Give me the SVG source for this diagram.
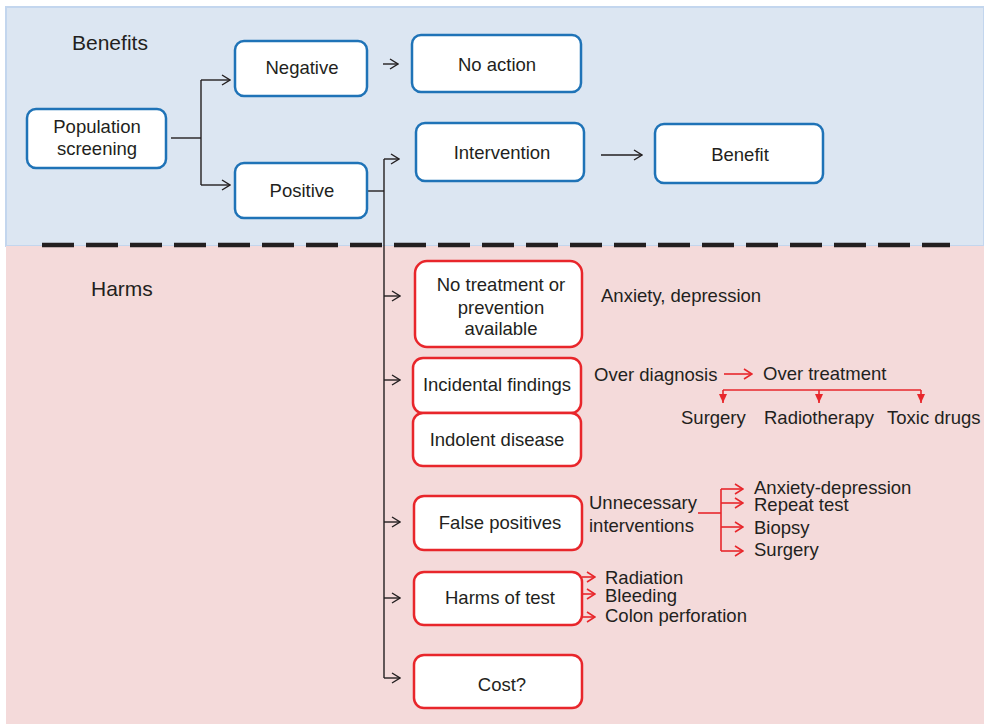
<svg xmlns="http://www.w3.org/2000/svg" width="984" height="724" viewBox="0 0 984 724">
<defs>
<style>
text{font-family:"Liberation Sans",Arial,sans-serif;font-size:18.5px;fill:#231f20}
.c{text-anchor:middle}
.title{font-size:21px}
.bb{fill:#fff;stroke:#1f73b7;stroke-width:2.5}
.rb{fill:#fff;stroke:#e8262b;stroke-width:2.5}
.k{fill:none;stroke:#231f20;stroke-width:1.4}
.r{fill:none;stroke:#e8262b;stroke-width:1.6}
</style>
<marker id="ak" markerWidth="12" markerHeight="12" viewBox="0 0 12 12" refX="11" refY="6" orient="auto" markerUnits="userSpaceOnUse">
<path d="M3,1 L11,6 L3,11" fill="none" stroke="#231f20" stroke-width="1.4"/>
</marker>
<marker id="ar" markerWidth="12" markerHeight="12" viewBox="0 0 12 12" refX="11" refY="6" orient="auto" markerUnits="userSpaceOnUse">
<path d="M3,1 L11,6 L3,11" fill="none" stroke="#e8262b" stroke-width="1.6"/>
</marker>
<marker id="tr" markerWidth="10" markerHeight="10" viewBox="0 0 10 10" refX="9" refY="5" orient="auto" markerUnits="userSpaceOnUse">
<path d="M0,1 L9,5 L0,9 Z" fill="#e8262b"/>
</marker>
</defs>
<g id="background">
<rect x="6" y="7" width="978" height="239" fill="#dce6f2" stroke="#c3d6ee" stroke-width="2"/>
<rect x="6" y="246" width="978" height="478" fill="#f4dada"/>
<line x1="42" y1="245" x2="950" y2="245" stroke="#231f20" stroke-width="4.5" stroke-dasharray="32 12"/>
<text class="title" x="72" y="50">Benefits</text>
<text class="title" x="91" y="296">Harms</text>
</g>
<g id="connectors">
<path class="k" d="M171,138 H201"/>
<path class="k" d="M201,80 V185"/>
<path class="k" d="M201,80 H230" marker-end="url(#ak)"/>
<path class="k" d="M201,185 H230" marker-end="url(#ak)"/>
<path class="k" d="M383,64 H398" marker-end="url(#ak)"/>
<path class="k" d="M367,191 H384"/>
<path class="k" d="M384,159 V678"/>
<path class="k" d="M384,159 H399" marker-end="url(#ak)"/>
<path class="k" d="M601,155 H642" marker-end="url(#ak)"/>
<path class="k" d="M384,296 H400" marker-end="url(#ak)"/>
<path class="k" d="M384,380 H400" marker-end="url(#ak)"/>
<path class="k" d="M384,522 H400" marker-end="url(#ak)"/>
<path class="k" d="M384,598 H400" marker-end="url(#ak)"/>
<path class="k" d="M384,678 H400" marker-end="url(#ak)"/>
<path class="r" d="M724,374 H752" marker-end="url(#ar)"/>
<path class="r" d="M723,390 H921"/>
<path class="r" d="M723,390 V403" marker-end="url(#tr)"/>
<path class="r" d="M819,390 V403" marker-end="url(#tr)"/>
<path class="r" d="M921,390 V403" marker-end="url(#tr)"/>
<path class="r" d="M698,513 H721"/>
<path class="r" d="M721,489 V551"/>
<path class="r" d="M721,489 H743" marker-end="url(#ar)"/>
<path class="r" d="M721,503 H743" marker-end="url(#ar)"/>
<path class="r" d="M721,527 H743" marker-end="url(#ar)"/>
<path class="r" d="M721,551 H743" marker-end="url(#ar)"/>
<path class="r" d="M582,577 H595" marker-end="url(#ar)"/>
<path class="r" d="M582,594 H595" marker-end="url(#ar)"/>
<path class="r" d="M582,617 H595" marker-end="url(#ar)"/>
</g>
<g id="population-screening">
<rect class="bb" x="27" y="109" width="139" height="59" rx="9"/>
<text class="c" x="97" y="133">Population</text>
<text class="c" x="97" y="155">screening</text>
</g>
<g id="negative">
<rect class="bb" x="235" y="41" width="132" height="55" rx="9"/>
<text class="c" x="302" y="74">Negative</text>
</g>
<g id="positive">
<rect class="bb" x="235" y="163" width="132" height="55" rx="9"/>
<text class="c" x="302" y="197">Positive</text>
</g>
<g id="no-action">
<rect class="bb" x="412" y="35" width="169" height="57" rx="9"/>
<text class="c" x="497" y="71">No action</text>
</g>
<g id="intervention">
<rect class="bb" x="416" y="123" width="168" height="58" rx="9"/>
<text class="c" x="502" y="159">Intervention</text>
</g>
<g id="benefit">
<rect class="bb" x="655" y="124" width="168" height="59" rx="9"/>
<text class="c" x="740" y="161">Benefit</text>
</g>
<g id="no-treatment">
<rect class="rb" x="415" y="261" width="167" height="86" rx="12"/>
<text class="c" x="501" y="291">No treatment or</text>
<text class="c" x="501" y="314">prevention</text>
<text class="c" x="501" y="335">available</text>
</g>
<g id="anxiety-depression-label">
<text x="601" y="302">Anxiety, depression</text>
</g>
<g id="incidental-findings">
<rect class="rb" x="413" y="358" width="168" height="55" rx="10"/>
<text class="c" x="497" y="391">Incidental findings</text>
</g>
<g id="indolent-disease">
<rect class="rb" x="413" y="413" width="168" height="53" rx="10"/>
<text class="c" x="497" y="446">Indolent disease</text>
</g>
<g id="over-diagnosis">
<text x="594" y="381">Over diagnosis</text>
<text x="763" y="380">Over treatment</text>
<text x="681" y="424">Surgery</text>
<text x="764" y="424">Radiotherapy</text>
<text x="887" y="424">Toxic drugs</text>
</g>
<g id="false-positives">
<rect class="rb" x="414" y="496" width="168" height="54" rx="10"/>
<text class="c" x="500" y="529">False positives</text>
</g>
<g id="unnecessary-interventions">
<text x="589" y="509">Unnecessary</text>
<text x="589" y="532">interventions</text>
<text x="754" y="494">Anxiety-depression</text>
<text x="754" y="511">Repeat test</text>
<text x="754" y="534">Biopsy</text>
<text x="754" y="556">Surgery</text>
</g>
<g id="harms-of-test">
<rect class="rb" x="414" y="572" width="168" height="53" rx="10"/>
<text class="c" x="500" y="604">Harms of test</text>
<text x="605" y="584">Radiation</text>
<text x="605" y="602">Bleeding</text>
<text x="605" y="622">Colon perforation</text>
</g>
<g id="cost">
<rect class="rb" x="414" y="655" width="168" height="53" rx="10"/>
<text class="c" x="502" y="691">Cost?</text>
</g>
</svg>
